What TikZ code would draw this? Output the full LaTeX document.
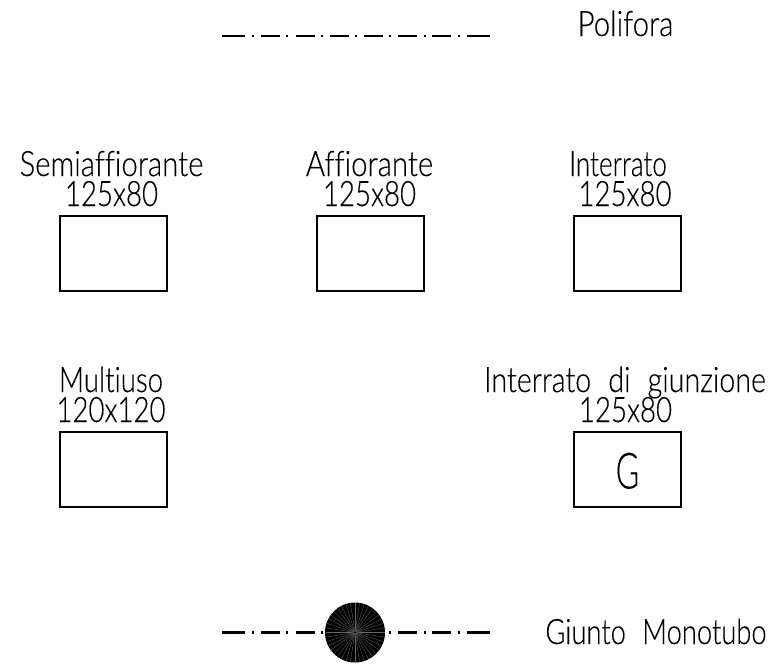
\documentclass[tikz,border=0pt]{standalone}
\usepackage{fontspec}
\setmainfont[FakeStretch=0.84,Ligatures=NoCommon,FakeBold=0.25,WordSpace=2.2]{Lato Light}
\tikzset{
  lbl/.style={anchor=base,inner sep=0pt,font=\fontsize{35}{35}\selectfont},
  num/.style={lbl,xscale=0.94,transform shape},
  squeezed/.style={lbl,xscale=#1,transform shape},
  bigl/.style={anchor=base,inner sep=0pt,xscale=0.76,transform shape,font=\fontsize{50}{50}\selectfont},
  boxn/.style={draw=black,line width=2pt,minimum width=107pt,minimum height=75pt,inner sep=0pt},
  ln/.style={line width=2.7pt},
  dotn/.style={line width=2.7pt},
  spoke/.style={draw=white!40!black,line width=0.3pt}
}
\begin{document}
\begin{tikzpicture}[x=1pt,y=-1pt]
\useasboundingbox (0,0) rectangle (773,665);
% Boxes
\node[boxn] (b1) at (113,253.5) {};
\node[boxn] (b2) at (370.5,253.5) {};
\node[boxn] (b3) at (627.5,253.5) {};
\node[boxn] (b4) at (113,469.5) {};
\node[boxn] (b5) at (627.5,469.5) {};
% Labels
\node[lbl] (t1) at (111.5,176) {Semiaffiorante};
\node[num] (s1) at (111.5,206) {125x80};
\node[lbl] (t2) at (369.5,176) {Affiorante};
\node[num] (s2) at (369.5,206) {125x80};
\node[squeezed=0.89] (t3) at (618,176) {Interrato};
\node[num] (s3) at (625,206) {125x80};
\node[squeezed=0.94] (t4) at (111,392) {Multiuso};
\node[num] (s4) at (111,422) {120x120};
\node[squeezed=0.975] (t5) at (625,392) {Interrato di giunzione};
\node[num] (s5) at (625.5,422) {125x80};
\node[bigl] (g) at (627.5,488.5) {G};
\node[lbl] (pol) at (625.5,36) {Polifora};
\node[squeezed=0.93] (mono) at (656,644) {Giunto Monotubo};
% Polifora line
\foreach \a/\b in {222/245,261/280,295.5/314.5,329.5/348.5,363.5/382.5,398/417,432/451,467/490}
  \draw[ln] (\a,36) -- (\b,36);
\foreach \d in {253,287.3,321.7,356,390.3,424.7,458.5}
  \draw[dotn] (\d-1,36) -- (\d+1,36);
% Monotubo line
\foreach \a/\b in {222/245,261/280,295.5/314.5,398/417,432/451,467/490}
  \draw[ln] (\a,632.7) -- (\b,632.7);
\foreach \d in {253,287.3,321.7,390.3,424.7,458.5}
  \draw[dotn] (\d-1,632.7) -- (\d+1,632.7);
% Joint
\node[circle,fill=black,minimum size=60pt,inner sep=0pt] (j) at (355,632.5) {};
\foreach \ang in {0,9,...,359}
  \draw[spoke] (j.center) ++(\ang:3.5) -- ++(\ang:26);
\fill[white!30!black] (j.center) circle (3.5);
\fill[black] (j.center) circle (1.2);
\end{tikzpicture}
\end{document}
